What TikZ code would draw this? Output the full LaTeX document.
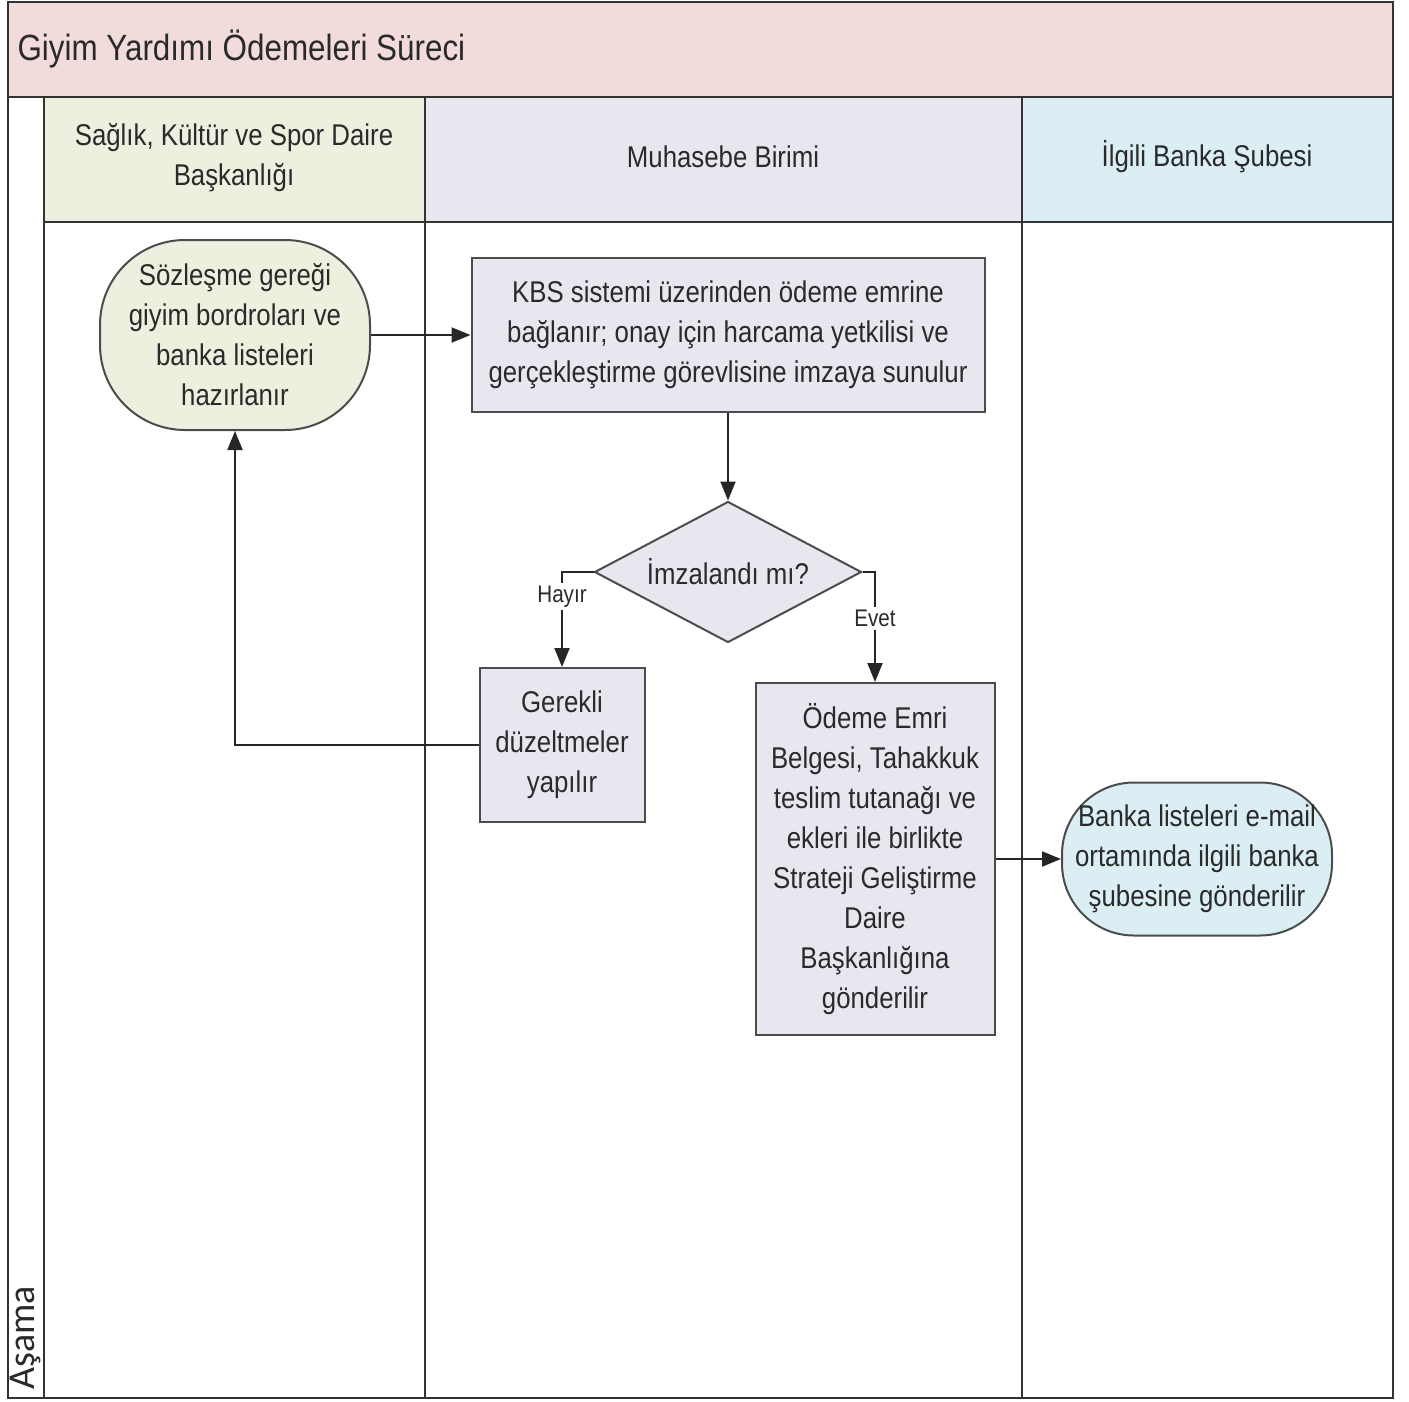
\documentclass[tikz,border=0pt]{standalone}
\usepackage{fontspec}
\setmainfont{Liberation Sans}[FakeStretch=0.86]
\newfontfamily\asamafont{Carlito}
\usetikzlibrary{shapes,arrows.meta,positioning,calc}
\usepackage{xcolor}

\definecolor{titlepink}{HTML}{F2DCDB}
\definecolor{lanegreen}{HTML}{EBF1DE}
\definecolor{lanegray}{HTML}{E8E7EF}
\definecolor{laneblue}{HTML}{DBEEF3}
\definecolor{inkgray}{HTML}{2A2A2A}

\tikzset{
    laneline/.style={draw=black!80, line width=2.5pt},
    stepbox/.style={draw=black!70, line width=2pt, fill=lanegray, align=center, inner sep=0pt, text=inkgray},
    termnode/.style={draw=black!70, line width=2pt, align=center, inner sep=0pt, text=inkgray},
    decision/.style={diamond, aspect=1.9, draw=black!70, line width=2pt, fill=lanegray, inner sep=0pt, text=inkgray},
    flow/.style={-{Triangle[length=19pt,width=15pt]}, line width=2pt, draw=black!85},
    flowlabel/.style={font=\fontsize{24}{28}\selectfont, fill=white, inner sep=3pt, text=inkgray}
}

\begin{document}
\begin{tikzpicture}[x=1pt, y=-1pt, every node/.style={font=\fontsize{30}{40}\selectfont}]
    \useasboundingbox (0,0) rectangle (1409,1401);
    % title band and lane headers
    \fill[titlepink] (8,2) rectangle (1393,97);
    \fill[lanegreen] (44,97) rectangle (425,222);
    \fill[lanegray] (425,97) rectangle (1022,222);
    \fill[laneblue] (1022,97) rectangle (1393,222);
    \draw[laneline] (8,2) rectangle (1393,1398);
    \draw[laneline] (8,97) -- (1393,97);
    \draw[laneline] (44,222) -- (1393,222);
    \draw[laneline] (44,97) -- (44,1398);
    \draw[laneline] (425,97) -- (425,1398);
    \draw[laneline] (1022,97) -- (1022,1398);

    \node[anchor=west, text=inkgray, font=\fontsize{36.5}{40}\selectfont] (title) at (14,49) {Giyim Yardımı Ödemeleri Süreci};
    \node[rotate=90, text=inkgray, font=\asamafont\fontsize{38}{40}\selectfont] (asama) at (26,1338) {Aşama};
    \node[align=center, text=inkgray] (hsks) at (234,158) {Sağlık, Kültür ve Spor Daire\\Başkanlığı};
    \node[text=inkgray] (hmuh) at (723,157) {Muhasebe Birimi};
    \node[text=inkgray] (hbank) at (1207,157) {İlgili Banka Şubesi};

    % flow nodes
    \node[termnode, fill=lanegreen, rounded corners=85pt, minimum width=270pt, minimum height=190pt] (start) at (235,335)
        {Sözleşme gereği\\giyim bordroları ve\\banka listeleri\\hazırlanır};
    \node[stepbox, minimum width=513pt, minimum height=154pt] (kbs) at (728,335)
        {KBS sistemi üzerinden ödeme emrine\\bağlanır; onay için harcama yetkilisi ve\\gerçekleştirme görevlisine imzaya sunulur};
    \node[decision, minimum width=267pt, minimum height=141pt] (imza) at (728,572) {İmzalandı mı?};
    \node[stepbox, minimum width=165pt, minimum height=154pt] (fix) at (562,745)
        {Gerekli\\düzeltmeler\\yapılır};
    \node[stepbox, minimum width=239pt, minimum height=352pt] (emri) at (875,859)
        {Ödeme Emri\\Belgesi, Tahakkuk\\teslim tutanağı ve\\ekleri ile birlikte\\Strateji Geliştirme\\Daire\\Başkanlığına\\gönderilir};
    \node[termnode, fill=laneblue, rounded corners=72pt, minimum width=270pt, minimum height=153pt] (send) at (1197,859)
        {Banka listeleri e-mail\\ortamında ilgili banka\\şubesine gönderilir};

    % connectors
    \draw[flow] (start.east) -- (kbs.west);
    \draw[flow] (kbs.south) -- (imza.north);
    \draw[flow] (imza.west) -| (fix.north) node[pos=0.63, flowlabel] {Hayır};
    \draw[flow] (imza.east) -| (emri.north) node[pos=0.71, flowlabel] {Evet};
    \draw[flow] (fix.west) -| (start.south);
    \draw[flow] (emri.east) -- (send.west);
\end{tikzpicture}
\end{document}
